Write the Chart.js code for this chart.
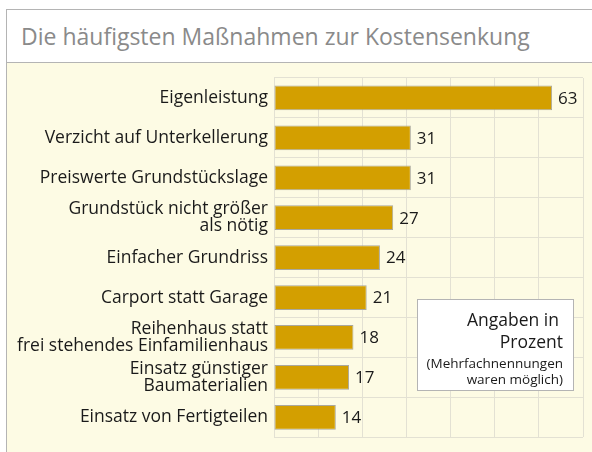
<!DOCTYPE html>
<html lang="de">
<head>
  <meta charset="UTF-8">
  <title>Kostensenkung</title>
  <script src="https://cdn.jsdelivr.net/npm/chart.js"></script>
  <style>
    html, body { margin: 0; padding: 0; background: #fff; overflow: hidden; }
    body { width: 592px; height: 452px; position: relative; font-family: "Open Sans", sans-serif; }
    .frame {
      position: absolute; left: 6px; top: 9px; width: 600px; height: 460px;
      border: 1px solid #b4b4b4; background: #fdfbe4;
    }
    .head {
      height: 52px; background: #fff; border-bottom: 1px solid #b4b4b4;
      color: #8a8a8a; font-size: 23px; line-height: 52px; padding-left: 14px;
    }
    .chart-box { position: absolute; left: 0; top: 53px; width: 585px; height: 389px; }
  </style>
</head>
<body>
  <div class="frame">
    <div class="head">Die häufigsten Maßnahmen zur Kostensenkung</div>
    <div class="chart-box"><canvas id="chart"></canvas></div>
  </div>

  <script>
    const categories = [
      'Eigenleistung',
      'Verzicht auf Unterkellerung',
      'Preiswerte Grundstückslage',
      ['Grundstück nicht größer', 'als nötig'],
      'Einfacher Grundriss',
      'Carport statt Garage',
      ['Reihenhaus statt', 'frei stehendes Einfamilienhaus'],
      ['Einsatz günstiger', 'Baumaterialien'],
      'Einsatz von Fertigteilen'
    ];
    const values = [63, 31, 31, 27, 24, 21, 18, 17, 14];
    const noteLines = ['Angaben in', 'Prozent', '(Mehrfachnennungen', 'waren möglich)'];

    // Zahlen rechts neben den Balken
    const valueLabels = {
      id: 'valueLabels',
      afterDatasetsDraw(chart) {
        const ctx = chart.ctx;
        const meta = chart.getDatasetMeta(0);
        ctx.save();
        ctx.font = '17px "Open Sans"';
        ctx.fillStyle = '#1a1a1a';
        ctx.textBaseline = 'middle';
        meta.data.forEach((bar, i) => {
          ctx.fillText(values[i], bar.x + 6, bar.y + 1);
        });
        ctx.restore();
      }
    };

    // Hinweiskasten unten rechts
    const noteBox = {
      id: 'noteBox',
      afterDraw(chart) {
        const ctx = chart.ctx;
        const x = 410, y = 236, w = 156, h = 91;
        ctx.save();
        ctx.fillStyle = '#fff';
        ctx.fillRect(x, y, w, h);
        ctx.strokeStyle = '#b4b4b4';
        ctx.lineWidth = 1;
        ctx.strokeRect(x + 0.5, y + 0.5, w, h);
        ctx.fillStyle = '#1a1a1a';
        ctx.textAlign = 'right';
        ctx.font = '17.5px "Open Sans"';
        ctx.fillText(noteLines[0], x + w - 14, y + 27);
        ctx.fillText(noteLines[1], x + w - 10, y + 49);
        ctx.font = '13.5px "Open Sans"';
        ctx.fillText(noteLines[2], x + w - 10, y + 69);
        ctx.fillText(noteLines[3], x + w - 10, y + 85);
        ctx.restore();
      }
    };

    new Chart(document.getElementById('chart'), {
      type: 'bar',
      data: {
        labels: categories,
        datasets: [{
          data: values,
          backgroundColor: '#d39f00',
          borderColor: '#a9a89e',
          borderWidth: 1,
          borderSkipped: false,
          barPercentage: 0.62,
          categoryPercentage: 1
        }]
      },
      options: {
        indexAxis: 'y',
        responsive: true,
        maintainAspectRatio: false,
        animation: false,
        layout: { padding: { top: 15, right: 9, bottom: 9, left: 0 } },
        plugins: { legend: { display: false }, tooltip: { enabled: false } },
        scales: {
          x: {
            min: 0, max: 70,
            ticks: { display: false, stepSize: 10 },
            grid: { color: '#e3e1d3', lineWidth: 1, drawTicks: false },
            border: { display: false }
          },
          y: {
            afterFit(scale) { scale.width = 267; },
            ticks: {
              color: '#1a1a1a',
              padding: 6,
              font: { family: 'Open Sans', size: 17.5, lineHeight: 1.0 }
            },
            grid: { color: '#e3e1d3', lineWidth: 1, drawTicks: false, offset: true },
            border: { display: false }
          }
        }
      },
      plugins: [valueLabels, noteBox]
    });
  </script>
</body>
</html>
